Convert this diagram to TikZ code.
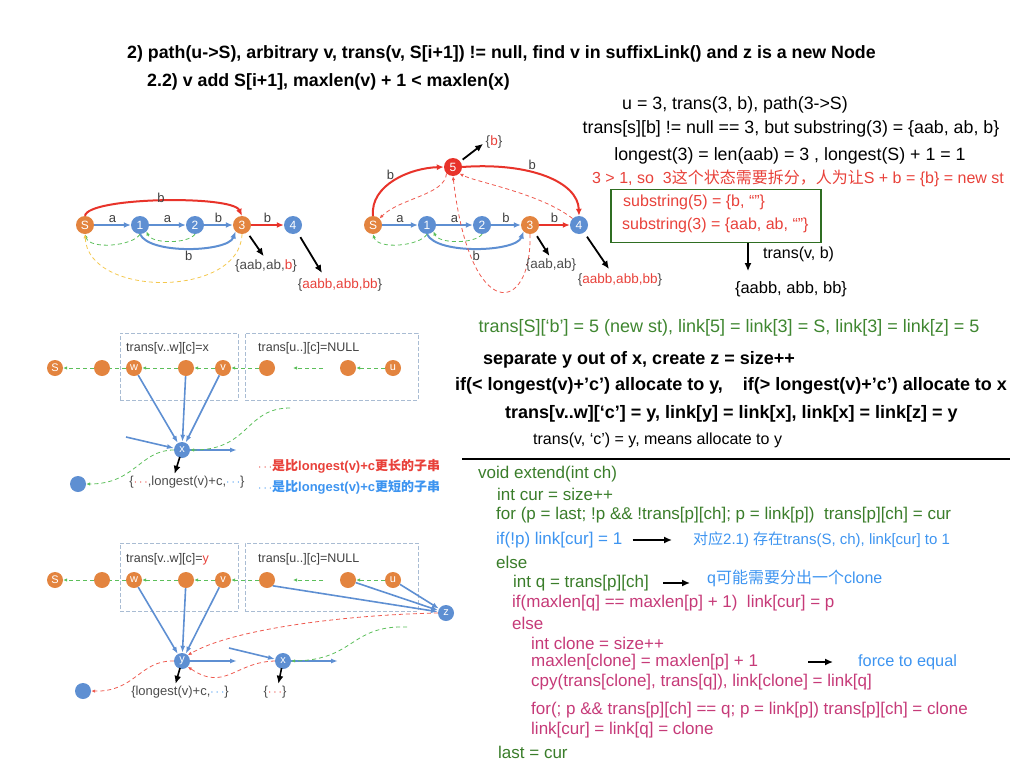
\documentclass[tikz,border=0pt]{standalone}
\usepackage{fontspec}
\setmainfont{Liberation Sans}
\newfontfamily\cjk{Noto Sans CJK SC}
\newcommand\zh[1]{{\cjk #1}}
\newcommand\fsz[1]{\fontsize{#1}{#1}\selectfont}
\usetikzlibrary{arrows.meta,positioning,calc}
\definecolor{stOrange}{HTML}{E3843F}
\definecolor{stBlue}{HTML}{5E8FD2}
\definecolor{stRed}{HTML}{E8332A}
\definecolor{lnkGreen}{HTML}{5CBF5A}
\definecolor{lnkYellow}{HTML}{F4C84E}
\definecolor{lnkRed}{HTML}{EE5A50}
\definecolor{txtRed}{HTML}{E8413A}
\definecolor{txtGreen}{HTML}{3F8630}
\definecolor{codeGreen}{HTML}{3A7D2A}
\definecolor{codeBlue}{HTML}{3D94F0}
\definecolor{codePink}{HTML}{C63A78}
\definecolor{boxGreen}{HTML}{2F6E22}
\definecolor{grpGray}{HTML}{A9BCD3}
\tikzset{>=latex}

\begin{document}
\begin{tikzpicture}[x=1pt,y=-1pt,
  st/.style={circle,fill=#1,text=white,minimum size=18pt,inner sep=0pt,font=\fsz{12}},
  st/.default=stOrange,
  sst/.style={st=#1,minimum size=16pt,font=\fsz{11}},
  sst/.default=stOrange,
  tr/.style={stBlue,line width=2pt,-{Latex[length=7pt,width=6pt]}},
  rtr/.style={stRed,line width=2pt,-{Latex[length=7pt,width=6pt]}},
  ltr/.style={stBlue,line width=1.6pt,-{Latex[length=7pt,width=5pt]}},
  lnk/.style={#1,dash pattern=on 4pt off 3pt,line width=0.8pt,-{Latex[length=4pt,width=3.5pt]}},
  lnk/.default=lnkGreen,
  ptr/.style={black,line width=1.8pt,-{Latex[length=8pt,width=7pt]}},
  elbl/.style={font=\fsz{13},text=black!75,inner sep=1.5pt},
  strset/.style={font=\fsz{13.5},text=black!70,inner sep=0pt},
  grp/.style={draw=grpGray,dash pattern=on 4pt off 2pt,line width=0.8pt,inner sep=0pt},
  grplbl/.style={anchor=west,font=\fsz{12.5},text=black!75,inner sep=0pt},
  ttl/.style={anchor=west,inner sep=0pt,font=\bfseries\fsz{17.8}},
  txt/.style={inner sep=0pt,font=\fsz{17.8}},
  btxt/.style={anchor=west,inner sep=0pt,font=\bfseries\fsz{18}},
  code/.style={anchor=west,inner sep=0pt,font=\fsz{17}},
  note/.style={anchor=west,inner sep=0pt,font=\fsz{15},text=codeBlue}]
\useasboundingbox (0,0) rectangle (1024,768);

% title
\node[ttl] (title1) at (127,54) {2) path(u->S), arbitrary v, trans(v, S[i+1]) != null, find v in suffixLink() and z is a new Node};
\node[ttl] (title2) at (147,82) {2.2) v add S[i+1], maxlen(v) + 1 < maxlen(x)};

% automaton before split
\node[st] (aS) at (85,225) {S};
\node[st=stBlue] (a1) at (140,225) {1};
\node[st=stBlue] (a2) at (195,225) {2};
\node[st] (a3) at (242,225) {3};
\node[st=stBlue] (a4) at (293,225) {4};
\draw[tr] (aS) -- node[elbl,above]{a} (a1);
\draw[tr] (a1) -- node[elbl,above]{a} (a2);
\draw[tr] (a2) -- node[elbl,above]{b} (a3);
\draw[rtr] (a3) -- node[elbl,above]{b} (a4);
\draw[rtr] (aS.north) .. controls (88,197) and (232,195) .. node[elbl,above=-4pt]{b} (a3.north);
\draw[tr] (a1.south) .. controls (150,255) and (228,252) .. node[elbl,below]{b} (a3.south west);
\draw[lnk] (a1.south) .. controls (133,246) and (90,250) .. (aS.south);
\draw[lnk] (a2.south) .. controls (188,244) and (152,244) .. (a1.south east);
\draw[lnk=lnkYellow] (a3.south) .. controls (240,298) and (88,298) .. (aS.south);
\node[strset] (set3) at (266,266) {\{aab,ab,\textcolor{txtRed}{b}\}};
\node[strset] (set4) at (340,285) {\{\textcolor{txtRed}{aabb,abb,bb}\}};
\coordinate (tip4) at (322,273);
\draw[ptr,shorten <=4pt,shorten >=4pt] (a3) -- (set3.north);
\draw[ptr,shorten <=5pt] (a4) -- (tip4);

% automaton after split
\node[st] (bS) at (373,225) {S};
\node[st=stBlue] (b1) at (427,225) {1};
\node[st=stBlue] (b2) at (482,225) {2};
\node[st] (b3) at (530,225) {3};
\node[st=stBlue] (b4) at (579,225) {4};
\node[st=stRed] (b5) at (453,167) {5};
\draw[tr] (bS) -- node[elbl,above]{a} (b1);
\draw[tr] (b1) -- node[elbl,above]{a} (b2);
\draw[tr] (b2) -- node[elbl,above]{b} (b3);
\draw[rtr] (b3) -- node[elbl,above]{b} (b4);
\draw[rtr] (bS.north) .. controls (370,185) and (410,168) .. node[elbl,pos=0.5,above left=-3pt]{b} (b5.west);
\draw[rtr] (b5.east) .. controls (530,162) and (578,182) .. node[elbl,pos=0.4,above]{b} (b4.north);
\draw[tr] (b1.south) .. controls (437,255) and (516,252) .. node[elbl,below]{b} (b3.south west);
\draw[lnk] (b1.south) .. controls (420,246) and (378,250) .. (bS.south);
\draw[lnk] (b2.south) .. controls (475,244) and (439,244) .. (b1.south east);
\draw[lnk=lnkRed] (b4.north west) .. controls (540,193) and (475,182) .. (b5.south east);
\draw[lnk=lnkRed] (b5.south west) .. controls (445,195) and (400,198) .. (bS.north east);
\draw[lnk=lnkRed] (b3.south) .. controls (532,315) and (470,325) .. (b5.south);
\node[strset] (set5) at (494,142) {\{\textcolor{txtRed}{b}\}};
\node[strset] (set3b) at (551,265) {\{aab,ab\}};
\node[strset] (set4b) at (620,280) {\{\textcolor{txtRed}{aabb,abb,bb}\}};
\coordinate (tip4b) at (609,269);
\draw[ptr,shorten <=3pt,shorten >=3pt] (b5) -- (set5.west);
\draw[ptr,shorten <=4pt,shorten >=3pt] (b3) -- (set3b.north);
\draw[ptr,shorten <=5pt] (b4) -- (tip4b);

% notes on the split
\node[txt] (u3) at (735,105) {u = 3, trans(3, b), path(3->S)};
\node[txt] (trs) at (791,129) {trans[s][b] != null == 3, but substring(3) = \{aab, ab, b\}};
\node[txt] (lgst) at (790,156) {longest(3) = len(aab) = 3 , longest(S) + 1 = 1};
\node[txt,text=txtRed,font=\fsz{16}] (split) at (798,178) {3 > 1, so\ \ 3\zh{这个状态需要拆分，人为让}S + b = \{b\} = new st};
\node[draw=boxGreen,line width=1.5pt,minimum width=210pt,minimum height=53pt,inner sep=0pt] (subbox) at (716,216) {};
\node[txt,anchor=west,text=txtRed,font=\fsz{16}] (sub5) at (623,202) {substring(5) = \{b, “”\}};
\node[txt,anchor=west,text=txtRed,font=\fsz{16}] (sub3) at (622,225) {substring(3) = \{aab, ab, “”\}};
\node[txt,font=\fsz{16.5}] (resAB) at (791,289) {\{aabb, abb, bb\}};
\draw[ptr,shorten >=10pt] ([xshift=32pt]subbox.south) -- ([xshift=32pt]subbox.south |- resAB.north);
\node[txt,anchor=west,font=\fsz{16}] (trvb) at (763,254) {trans(v, b)};

% states on the suffix path, before
\node[grp,minimum width=118pt,minimum height=67pt] (grpA) at (179,366.5) {};
\node[grp,minimum width=173pt,minimum height=67pt] (grpB) at (331.5,366.5) {};
\node[grplbl] (lblA) at (126,348) {trans[v..w][c]=x};
\node[grplbl] (lblB) at (258,348) {trans[u..][c]=NULL};
\node[sst] (mS) at (55,368) {S};
\node[sst] (m1) at (102,368) {};
\node[sst] (mw) at (134,368) {w};
\node[sst] (m2) at (186,368) {};
\node[sst] (mv) at (223,368) {v};
\node[sst] (m3) at (267,368) {};
\node[sst] (m4) at (348,368) {};
\node[sst] (mu) at (393,368) {u};
\node[sst=stBlue] (mx) at (182,450) {x};
\node[sst=stBlue] (mleft) at (78,484) {};
\coordinate (gapR) at (323,368);
\coordinate (gapL) at (293,368);
\coordinate (minA) at (126,437);
\coordinate (moutA) at (237,450);
\coordinate (mgrn) at (290,408);
\draw[lnk] (mu) -- (m4);
\draw[lnk] (gapR) -- (gapL);
\draw[lnk] (m3) -- (mv);
\draw[lnk] (mv) -- (m2);
\draw[lnk] (m2) -- (mw);
\draw[lnk,-] (mw) -- (m1);
\draw[lnk] (m1) -- (mS);
\draw[ltr] (mw) -- (mx);
\draw[ltr] (m2) -- (mx);
\draw[ltr] (mv) -- (mx);
\draw[ltr] (minA) -- (mx);
\draw[ltr] (mx) -- (moutA);
\draw[lnk] (mgrn) .. controls (245,408) and (250,450) .. (mx.east);
\draw[lnk] (mx.west) .. controls (140,450) and (135,484) .. (mleft.east);
\node[strset,font=\fsz{13}] (setx) at (187,482) {\{\textcolor{txtRed}{$\cdots$},longest(v)+c,\textcolor{codeBlue}{$\cdots$}\}};
\draw[ptr,line width=1.6pt,shorten <=-1pt,shorten >=2pt] (mx) -- (setx.north -| 174,0);
\node[anchor=west,inner sep=0pt,font=\bfseries\fsz{13},text=txtRed] (legR) at (258,466) {$\cdots$\zh{是比}longest(v)+c\zh{更长的子串}};
\node[anchor=west,inner sep=0pt,font=\bfseries\fsz{13},text=codeBlue] (legB) at (258,487) {$\cdots$\zh{是比}longest(v)+c\zh{更短的子串}};

% states on the suffix path, after
\node[grp,minimum width=118pt,minimum height=68pt] (grpC) at (179,577) {};
\node[grp,minimum width=173pt,minimum height=68pt] (grpD) at (331.5,577) {};
\node[grplbl] (lblC) at (126,559) {trans[v..w][c]=\textcolor{txtRed}{y}};
\node[grplbl] (lblD) at (258,559) {trans[u..][c]=NULL};
\node[sst] (nS) at (55,580) {S};
\node[sst] (n1) at (102,580) {};
\node[sst] (nw) at (134,580) {w};
\node[sst] (n2) at (186,580) {};
\node[sst] (nv) at (223,580) {v};
\node[sst] (n3) at (267,580) {};
\node[sst] (n4) at (348,580) {};
\node[sst] (nu) at (393,580) {u};
\node[sst=stBlue] (nz) at (446,613) {z};
\node[sst=stBlue] (ny) at (182,661) {y};
\node[sst=stBlue] (nx) at (283,661) {x};
\node[sst=stBlue] (nleft) at (83,691) {};
\coordinate (ngapR) at (323,580);
\coordinate (ngapL) at (293,580);
\coordinate (noutY) at (237,661);
\coordinate (ninX) at (229,648);
\coordinate (noutX) at (338,661);
\coordinate (ngrn) at (407,627);
\draw[lnk] (nu) -- (n4);
\draw[lnk] (ngapR) -- (ngapL);
\draw[lnk] (n3) -- (nv);
\draw[lnk] (nv) -- (n2);
\draw[lnk] (n2) -- (nw);
\draw[lnk,-] (nw) -- (n1);
\draw[lnk] (n1) -- (nS);
\draw[ltr] (n3.south east) -- (nz);
\draw[ltr] (n4) -- (nz);
\draw[ltr] (nu) -- (nz);
\draw[ltr] (nw) -- (ny);
\draw[ltr] (n2) -- (ny);
\draw[ltr] (nv) -- (ny);
\draw[ltr] (ny) -- (noutY);
\draw[ltr] (ninX) -- (nx);
\draw[ltr] (nx) -- (noutX);
\draw[lnk=lnkRed] (nz.west) .. controls (340,615) and (230,630) .. (ny.north east);
\draw[lnk=lnkRed] (nx.west) .. controls (235,662) and (225,692) .. (ny.south east);
\draw[lnk=lnkRed] (ny.west) .. controls (140,660) and (135,692) .. (nleft.east);
\draw[lnk] (ngrn) .. controls (350,625) and (355,660) .. (nx.east);
\node[strset,font=\fsz{13}] (sety) at (180,692) {\{longest(v)+c,\textcolor{codeBlue}{$\cdots$}\}};
\node[strset,font=\fsz{13}] (setxx) at (275,692) {\{\textcolor{txtRed}{$\cdots$}\}};
\draw[ptr,line width=1.6pt,shorten <=-1pt,shorten >=2pt] (ny) -- (sety.north -| 175,0);
\draw[ptr,line width=1.6pt,shorten <=-1pt,shorten >=2pt] (nx) -- (setxx.north -| 278,0);

% what the split does
\node[txt,text=txtGreen,font=\fsz{18}] (trS) at (729,328) {trans[S][‘b’] = 5 (new st), link[5] = link[3] = S, link[3] = link[z] = 5};
\node[btxt] (sep) at (483,360) {separate y out of x, create z = size++};
\node[btxt] (alloc) at (455,386) {if(< longest(v)+’c’) allocate to y,\ \ \ \ if(> longest(v)+’c’) allocate to x};
\node[btxt] (lnks) at (505,414) {trans[v..w][‘c’] = y, link[y] = link[x], link[x] = link[z] = y};
\node[anchor=west,inner sep=0pt,font=\fsz{16}] (mean) at (533,440) {trans(v, ‘c’) = y, means allocate to y};
\coordinate (ruleL) at (462,459);
\coordinate (ruleR) at (1010,459);
\draw[line width=2pt] (ruleL) -- (ruleR);

% code
\node[code,text=codeGreen] (c1) at (478,474) {void extend(int ch)};
\node[code,text=codeGreen] (c2) at (497,494) {int cur = size++};
\node[code,text=codeGreen] (c3) at (496,515) {for (p = last; !p \&\& !trans[p][ch]; p = link[p])\ \ trans[p][ch] = cur};
\node[code,text=codeBlue] (c4) at (496,540) {if(!p) link[cur] = 1};
\node[note] (n4txt) at (693,540) {\zh{对应}2.1) \zh{存在}trans(S, ch), link[cur] to 1};
\node[code,text=codeGreen] (c5) at (496,562) {else};
\node[code,text=codeGreen] (c6) at (513,583) {int q = trans[p][ch]};
\node[note,font=\fsz{16}] (n6txt) at (707,578) {q\zh{可能需要分出一个}clone};
\node[code,text=codePink] (c7) at (512,603) {if(maxlen[q] == maxlen[p] + 1)\ \ link[cur] = p};
\node[code,text=codePink] (c8) at (512,623) {else};
\node[code,text=codePink] (c9) at (531,643) {int clone = size++};
\node[code,text=codePink] (c10) at (531,662) {maxlen[clone] = maxlen[p] + 1};
\node[note,font=\fsz{16.3}] (n10txt) at (858,662) {force to equal};
\node[code,text=codePink] (c11) at (531,682) {cpy(trans[clone], trans[q]), link[clone] = link[q]};
\node[code,text=codePink] (c12) at (531,710) {for(; p \&\& trans[p][ch] == q; p = link[p]) trans[p][ch] = clone};
\node[code,text=codePink] (c13) at (531,730) {link[cur] = link[q] = clone};
\node[code,text=codeGreen] (c14) at (498,752) {last = cur};
\draw[ptr,line width=1.5pt,shorten <=10pt,shorten >=21pt] (c4.east) -- (c4.east -| n4txt.west);
\draw[ptr,line width=1.5pt,shorten <=14pt,shorten >=17pt] (c6.east) -- (c6.east -| n6txt.west);
\draw[ptr,line width=1.5pt,shorten <=50pt,shorten >=25pt] (c10.east) -- (c10.east -| n10txt.west);
\end{tikzpicture}
\end{document}
